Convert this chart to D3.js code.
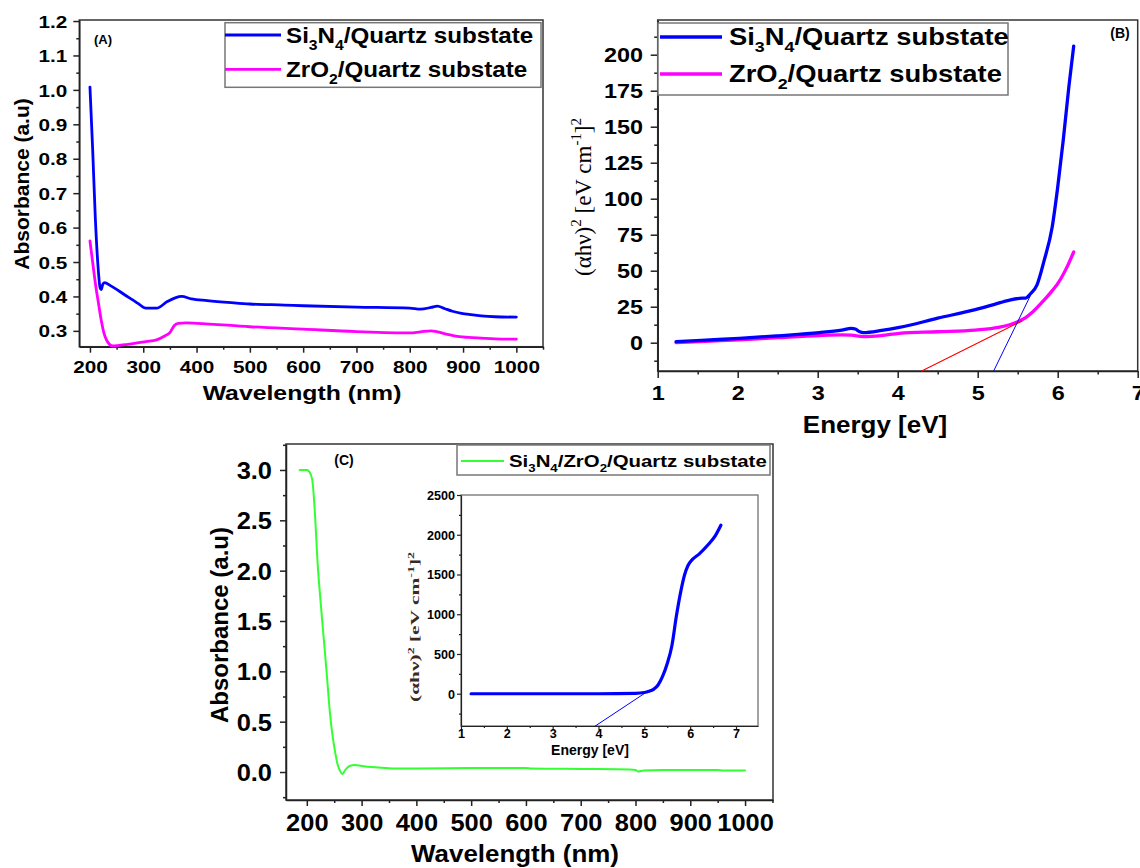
<!DOCTYPE html>
<html>
<head>
<meta charset="utf-8">
<script src="https://cdn.jsdelivr.net/npm/d3@7"></script>
<style>
  body { margin: 0; background: #fff; }
  svg { display: block; font-family: "Liberation Sans", Arial, sans-serif; }
</style>
</head>
<body>
<svg id="chart" width="1140" height="868"></svg>
<script>
// ---- panel (A): absorbance vs wavelength ----
var wlSi3n4 = [200, 205, 210, 215, 219, 221, 224, 227, 240, 265, 290, 305, 325, 345, 360, 372, 390, 420, 465, 500, 565, 600, 700, 800, 820, 840, 852, 865, 880, 897, 915, 934, 960, 1000];
var absSi3n4 = [1.008, 0.83, 0.63, 0.49, 0.425, 0.42, 0.435, 0.44, 0.43, 0.405, 0.38, 0.366, 0.366, 0.385, 0.396, 0.40, 0.393, 0.388, 0.382, 0.378, 0.375, 0.373, 0.369, 0.366, 0.363, 0.368, 0.372, 0.365, 0.357, 0.351, 0.347, 0.3435, 0.341, 0.34];
var wlZro2 = [200, 205, 211, 216, 221, 226, 231, 236, 243, 252, 271, 305, 325, 341, 350, 358, 366, 380, 400, 500, 600, 700, 800, 820, 840, 850, 870, 893, 910, 934, 960, 1000];
var absZro2 = [0.561, 0.5, 0.429, 0.38, 0.332, 0.295, 0.274, 0.262, 0.256, 0.257, 0.261, 0.269, 0.274, 0.286, 0.295, 0.315, 0.322, 0.323, 0.322, 0.312, 0.305, 0.298, 0.294, 0.297, 0.30, 0.298, 0.29, 0.283, 0.281, 0.279, 0.277, 0.276];
var ticksAx = [200, 300, 400, 500, 600, 700, 800, 900, 1000];
var ticksAy = [0.3, 0.4, 0.5, 0.6, 0.7, 0.8, 0.9, 1.0, 1.1, 1.2];

// ---- panel (B): Tauc plots ----
var eSi3n4 = [1.23, 1.6, 2.02, 2.5, 3.02, 3.3, 3.42, 3.47, 3.52, 3.57, 3.8, 4.02, 4.5, 4.97, 5.2, 5.4, 5.52, 5.6, 5.66, 5.74, 5.83, 5.93, 6.0, 6.07, 6.14, 6.2];
var taucSi3n4 = [0.7, 1.8, 3, 4.8, 7, 8.8, 10, 9.5, 7.8, 7, 8.5, 10.6, 17, 23, 26.5, 29.6, 30.8, 31, 34, 40, 57, 80, 108, 141, 178, 206];
var eZro2 = [1.23, 1.6, 2.02, 2.5, 3.02, 3.3, 3.42, 3.57, 3.8, 4.02, 4.5, 4.97, 5.26, 5.4, 5.5, 5.6, 5.69, 5.83, 5.93, 6.0, 6.12, 6.2];
var taucZro2 = [0, 1, 2, 3.5, 5, 5.4, 5.2, 4.2, 5, 6.5, 7.6, 8.8, 10.6, 12.5, 14.6, 17.5, 21.5, 29.6, 36, 41, 53, 63];
var fitSi3n4E = [5.2, 5.67], fitSi3n4V = [-19.6, 34];
var fitZro2E = [4.3, 5.55], fitZro2V = [-19.6, 15];
var ticksBx = [1, 2, 3, 4, 5, 6, 7];
var ticksBy = [0, 25, 50, 75, 100, 125, 150, 175, 200];

// ---- panel (C): bilayer absorbance + inset ----
var wlStack = [187, 200, 205, 210, 214, 220, 225, 231, 236, 241, 246, 251, 256, 260, 265, 270, 278, 288, 300, 330, 360, 400, 500, 600, 610, 700, 790, 800, 805, 815, 850, 900, 950, 960, 1000];
var absStack = [3.0, 3.0, 2.98, 2.9, 2.64, 2.05, 1.7, 1.32, 1.0, 0.66, 0.4, 0.22, 0.08, 0.02, -0.02, 0.02, 0.06, 0.07, 0.06, 0.045, 0.035, 0.035, 0.04, 0.04, 0.035, 0.03, 0.025, 0.02, 0.005, 0.015, 0.02, 0.02, 0.02, 0.015, 0.015];
var ticksCx = [200, 300, 400, 500, 600, 700, 800, 900, 1000];
var ticksCy = [0, 0.5, 1.0, 1.5, 2.0, 2.5, 3.0];
var eStack = [1.22, 2, 3, 4, 4.8, 5.0, 5.1, 5.2, 5.3, 5.4, 5.5, 5.6, 5.7, 5.8, 5.88, 5.95, 6.05, 6.2, 6.4, 6.55, 6.67];
var taucStack = [0, 0, 0, 0, 5, 15, 30, 55, 110, 220, 380, 600, 980, 1300, 1500, 1610, 1690, 1760, 1880, 1990, 2120];
var fitStackE = [3.93, 5.02], fitStackV = [-406, 10];
var ticksIx = [1, 2, 3, 4, 5, 6, 7];
var ticksIy = [0, 500, 1000, 1500, 2000, 2500];

var svg = d3.select("#chart");
var SANS = "'Liberation Sans', Arial, sans-serif";
var SERIF = "'Liberation Serif', 'Times New Roman', serif";

// text with sub/superscript parts, optional horizontal stretch
function richText(g, x, y, parts, o) {
  var t = g.append("text")
    .attr("transform", "translate(" + x + "," + y + ")" + (o.rot ? " rotate(" + o.rot + ")" : "") + " scale(" + (o.sx || 1) + ",1)")
    .attr("text-anchor", o.anchor || "start")
    .attr("font-family", o.family || SANS)
    .attr("font-weight", o.weight || "bold")
    .attr("font-size", o.fs)
    .attr("fill", o.color || "#000");
  if (o.len) t.attr("textLength", o.len).attr("lengthAdjust", "spacingAndGlyphs");
  var shift = 0;
  parts.forEach(function(p) {
    var s = typeof p === "string" ? p : p[0], m = typeof p === "string" ? "" : p[1];
    var target = m === "sub" ? o.fs * 0.3 : (m === "sup" ? -o.fs * 0.42 : 0);
    t.append("tspan").attr("dy", target - shift).attr("font-size", m ? o.fs * 0.65 : o.fs).text(s);
    shift = target;
  });
  return t;
}

function panel(o) {
  var g = svg.append("g");
  var x = d3.scaleLinear().domain(o.xDomain).range([o.left, o.right]);
  var y = d3.scaleLinear().domain(o.yDomain).range([o.bottom, o.top]);
  g.append("rect")
    .attr("x", o.left).attr("y", o.top)
    .attr("width", o.right - o.left).attr("height", o.bottom - o.top)
    .attr("fill", "#fff").attr("stroke", o.frame || "#333").attr("stroke-width", o.frameW || 1.5);

  var minorX = o.xMinor.filter(function(v) { return v >= o.xDomain[0] && v <= o.xDomain[1]; });
  var minorY = o.yMinor.filter(function(v) { return v >= o.yDomain[0] && v <= o.yDomain[1]; });

  g.append("g").attr("transform", "translate(0," + o.bottom + ")")
    .call(d3.axisBottom(x).tickValues(minorX).tickSize(o.tick / 2).tickFormat(""))
    .call(function(a) { a.select(".domain").remove(); a.selectAll("line").attr("stroke", "#222").attr("stroke-width", o.axisW); });
  g.append("g").attr("transform", "translate(" + o.left + ",0)")
    .call(d3.axisLeft(y).tickValues(minorY).tickSize(o.tick / 2).tickFormat(""))
    .call(function(a) { a.select(".domain").remove(); a.selectAll("line").attr("stroke", "#222").attr("stroke-width", o.axisW); });

  g.append("g").attr("transform", "translate(0," + o.bottom + ")")
    .call(d3.axisBottom(x).tickValues(o.xTicks).tickSize(o.tick).tickSizeOuter(0).tickFormat(o.xFmt))
    .call(function(a) {
      a.attr("font-family", null).attr("font-size", null);
      a.select(".domain").attr("stroke", "#222").attr("stroke-width", o.axisW);
      a.selectAll("line").attr("stroke", "#222").attr("stroke-width", o.axisW);
      a.selectAll("text").attr("y", o.xLab).attr("dy", 0)
        .attr("font-size", o.fs).attr("font-weight", "bold").attr("fill", "#000")
        .attr("transform", "scale(" + o.sx + ",1)");
    });
  g.append("g").attr("transform", "translate(" + o.left + ",0)")
    .call(d3.axisLeft(y).tickValues(o.yTicks).tickSize(o.tick).tickSizeOuter(0).tickFormat(o.yFmt))
    .call(function(a) {
      a.attr("font-family", null).attr("font-size", null);
      a.select(".domain").attr("stroke", "#222").attr("stroke-width", o.axisW);
      a.selectAll("line").attr("stroke", "#222").attr("stroke-width", o.axisW);
      a.selectAll("text").attr("x", -o.yLab / o.sx).attr("dy", "0.36em")
        .attr("font-size", o.fs).attr("font-weight", "bold").attr("fill", "#000")
        .attr("transform", "scale(" + o.sx + ",1)");
    });
  return { g: g, x: x, y: y };
}

function series(p, xs, ys, color, w) {
  var line = d3.line().curve(d3.curveMonotoneX)
    .x(function(d) { return p.x(d[0]); }).y(function(d) { return p.y(d[1]); });
  p.g.append("path").datum(d3.zip(xs, ys))
    .attr("d", line).attr("fill", "none").attr("stroke", color)
    .attr("stroke-width", w).attr("stroke-linejoin", "round").attr("stroke-linecap", "round");
}

function legend(g, box, rows, o) {
  g.append("rect").attr("x", box[0]).attr("y", box[1]).attr("width", box[2]).attr("height", box[3])
    .attr("fill", "#fff").attr("stroke", "#777").attr("stroke-width", 1.5);
  rows.forEach(function(r, i) {
    var cy = o.rows[i];
    g.append("line").attr("x1", o.lx[0]).attr("x2", o.lx[1]).attr("y1", cy).attr("y2", cy)
      .attr("stroke", r.color).attr("stroke-width", r.w);
    richText(g, o.tx, cy + o.fs * 0.36, r.label, { fs: o.fs, sx: o.sx });
  });
}

// ================= (A) =================
var pA = panel({
  left: 79.3, right: 543, top: 20, bottom: 346.7,
  xDomain: [180, 1050], yDomain: [0.254, 1.203],
  xTicks: ticksAx, yTicks: ticksAy,
  xMinor: d3.range(250, 1051, 100), yMinor: d3.range(0.35, 1.2, 0.1),
  xFmt: d3.format("d"), yFmt: d3.format(".1f"),
  tick: 6, axisW: 1.5, fs: 17, sx: 1.22, xLab: 26, yLab: 12
});
series(pA, wlSi3n4, absSi3n4, "#0000ff", 2.8);
series(pA, wlZro2, absZro2, "#ff00ff", 2.8);
legend(pA.g, [225, 22.7, 316, 64.6], [
  { color: "#0000ff", w: 2.8, label: ["Si", ["3", "sub"], "N", ["4", "sub"], "/Quartz substate"] },
  { color: "#ff00ff", w: 2.8, label: ["ZrO", ["2", "sub"], "/Quartz substate"] }
], { rows: [35, 69.3], lx: [225, 281], tx: 286, fs: 22, sx: 1.1 });
richText(pA.g, 103, 44, ["(A)"], { fs: 13, anchor: "middle" });
richText(pA.g, 302, 400, ["Wavelength (nm)"], { fs: 20, sx: 1.24, anchor: "middle" });
richText(pA.g, 29, 184, ["Absorbance (a.u)"], { fs: 21, anchor: "middle", rot: -90 });

// ================= (B) =================
var pB = panel({
  left: 657.7, right: 1137.7, top: 20, bottom: 371,
  xDomain: [1, 7], yDomain: [-19.65, 224.1],
  xTicks: ticksBx, yTicks: ticksBy,
  xMinor: d3.range(1.5, 7, 1), yMinor: d3.range(-12.5, 224, 25),
  xFmt: d3.format("d"), yFmt: d3.format("d"),
  tick: 7, axisW: 1.5, fs: 20, sx: 1.17, xLab: 29, yLab: 14.7
});
series(pB, eZro2, taucZro2, "#ff00ff", 3.3);
series(pB, eSi3n4, taucSi3n4, "#0000ff", 3.3);
series(pB, fitZro2E, fitZro2V, "#ff0000", 1.2);
series(pB, fitSi3n4E, fitSi3n4V, "#0000ff", 1);
legend(pB.g, [658, 23, 350, 72], [
  { color: "#0000ff", w: 3.3, label: ["Si", ["3", "sub"], "N", ["4", "sub"], "/Quartz substate"] },
  { color: "#ff00ff", w: 3.3, label: ["ZrO", ["2", "sub"], "/Quartz substate"] }
], { rows: [37, 74], lx: [660, 722], tx: 729, fs: 23, sx: 1.19 });
richText(pB.g, 1120, 38, ["(B)"], { fs: 14, anchor: "middle" });
richText(pB.g, 875, 433, ["Energy [eV]"], { fs: 23, sx: 1.13, anchor: "middle" });
richText(pB.g, 591, 197, ["(\u03b1h\u03bd)", ["2", "sup"], " [eV cm", ["-1", "sup"], "]", ["2", "sup"]],
  { fs: 23, anchor: "middle", rot: -90, family: SERIF, weight: "normal" });

// ================= (C) =================
var pC = panel({
  left: 286, right: 773, top: 444, bottom: 800,
  xDomain: [162, 1051], yDomain: [-0.278, 3.258],
  xTicks: ticksCx, yTicks: ticksCy,
  xMinor: d3.range(250, 1051, 100), yMinor: d3.range(-0.25, 3.26, 0.5),
  xFmt: d3.format("d"), yFmt: d3.format(".1f"),
  tick: 6, axisW: 1.5, fs: 24, sx: 1.06, xLab: 31, yLab: 14
});
series(pC, wlStack, absStack, "#33ff33", 2);
legend(pC.g, [457, 445, 313, 30], [
  { color: "#33ff33", w: 2, label: ["Si", ["3", "sub"], "N", ["4", "sub"], "/ZrO", ["2", "sub"], "/Quartz substate"] }
], { rows: [461], lx: [461, 504], tx: 509, fs: 17, sx: 1.2 });
richText(pC.g, 344, 465, ["(C)"], { fs: 14, anchor: "middle" });
richText(pC.g, 515, 862, ["Wavelength (nm)"], { fs: 24, sx: 1.08, anchor: "middle" });
richText(pC.g, 228, 625, ["Absorbance (a.u)"], { fs: 24, anchor: "middle", rot: -90 });

// inset
var pI = panel({
  left: 461, right: 758, top: 495, bottom: 726,
  xDomain: [1, 7.48], yDomain: [-406, 2500],
  xTicks: ticksIx, yTicks: ticksIy,
  xMinor: d3.range(1.5, 7.5, 1), yMinor: d3.range(-250, 2500, 500),
  xFmt: d3.format("d"), yFmt: d3.format("d"),
  tick: 4, axisW: 1.2, fs: 12, sx: 1.05, xLab: 12, yLab: 6,
  frame: "#666", frameW: 1.2
});
series(pI, eStack, taucStack, "#0000ff", 3.2);
series(pI, fitStackE, fitStackV, "#0000ff", 1);
richText(pI.g, 590, 755, ["Energy [eV]"], { fs: 14, anchor: "middle" });
richText(pI.g, 419, 627, ["(\u03b1h\u03bd)", ["2", "sup"], " [eV cm", ["-1", "sup"], "]", ["2", "sup"]],
  { fs: 13, anchor: "middle", rot: -90, family: SERIF, color: "#3b2b1e", len: 150 });
</script>
</body>
</html>
